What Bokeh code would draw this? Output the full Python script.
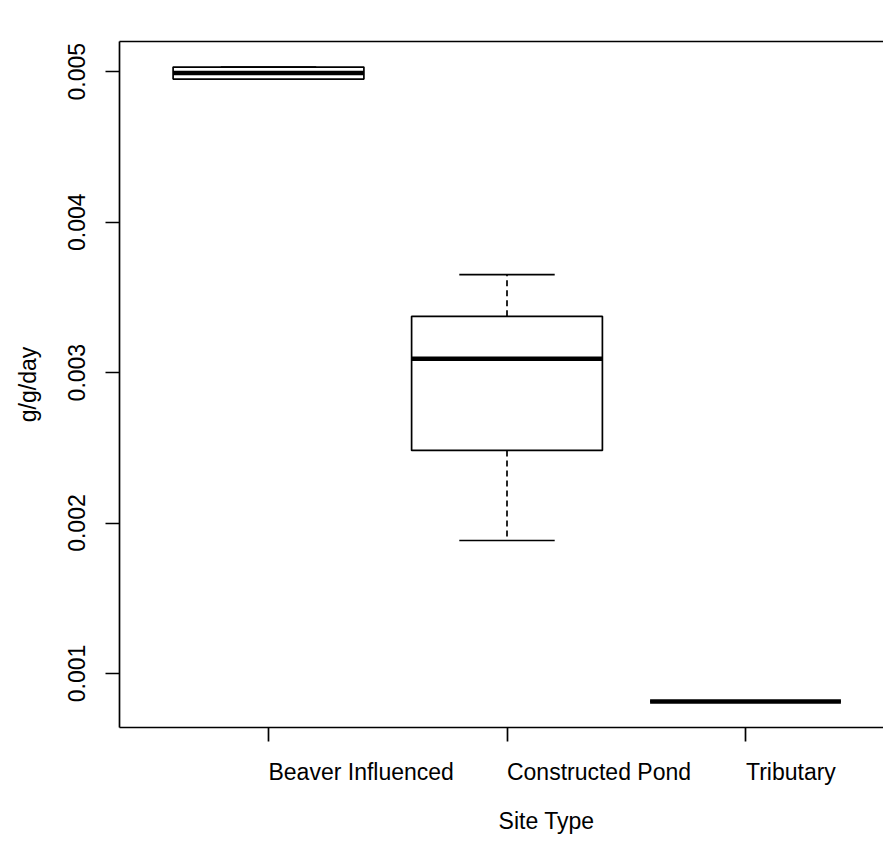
from bokeh.plotting import figure
from bokeh.models import (ColumnDataSource, Range1d, FixedTicker, LinearAxis,
                          CustomJSTickFormatter)
from bokeh.embed import file_html
from bokeh.resources import INLINE

# ---- data ----
categories = ["Beaver Influenced", "Constructed Pond", "Tributary"]
lower_whisker = [0.004951, 0.001884, 0.000814]
q1 = [0.004951, 0.002483, 0.000814]
median = [0.004991, 0.003092, 0.000814]
q3 = [0.005031, 0.003374, 0.000814]
upper_whisker = [0.005031, 0.003651, 0.000814]
y_ticks = [0.001, 0.002, 0.003, 0.004, 0.005]
y_tick_labels = ["0.001", "0.002", "0.003", "0.004", "0.005"]
x_title = "Site Type"
y_title = "g/g/day"

FONT = "Liberation Sans"
FS = "23px"

# ---- layout constants (pixels) ----
W, H = 883, 846
FRAME_L, FRAME_T, FRAME_B = 119, 41, 727
PX_PER_CAT = 238.5
label_half_px = [92.7, 92.0, 45.4]     # half widths of left-aligned tick labels
title_center_px = 546                 # x centre of "Site Type"

pos = [i + 1 for i in range(len(categories))]
x_start = 1 - (268 - FRAME_L) / PX_PER_CAT
x_end = 1 + (W - 268) / PX_PER_CAT
label_centers = [v + h / PX_PER_CAT for v, h in zip(pos, label_half_px)]
title_center = 1 + (title_center_px - 268) / PX_PER_CAT

box_w = 0.8
cap_w = 0.4
src = ColumnDataSource(dict(
    x=pos,
    left=[v - box_w / 2 for v in pos],
    right=[v + box_w / 2 for v in pos],
    cap_l=[v - cap_w / 2 for v in pos],
    cap_r=[v + cap_w / 2 for v in pos],
    lw=lower_whisker, q1=q1, med=median, q3=q3, uw=upper_whisker,
))

p = figure(width=W, height=H, output_backend="svg", toolbar_location=None,
           x_range=Range1d(x_start, x_end), y_range=Range1d(0.000641, 0.005201),
           x_axis_type=None, y_axis_type=None,
           min_border_left=FRAME_L, min_border_top=FRAME_T,
           min_border_bottom=H - FRAME_B, min_border_right=0)
p.outline_line_color = None
p.background_fill_color = "white"
p.border_fill_color = "white"

LW = 1.7

yax = LinearAxis(ticker=FixedTicker(ticks=y_ticks),
                 formatter=CustomJSTickFormatter(args=dict(names=y_tick_labels),
                                                 code="return names[index];"),
                 major_label_orientation="parallel",
                 major_label_text_font=FONT, major_label_text_font_size=FS,
                 major_label_text_color="black", major_label_standoff=20,
                 axis_line_color="black", axis_line_width=LW,
                 major_tick_line_color="black", major_tick_line_width=LW,
                 major_tick_in=0, major_tick_out=14,
                 minor_tick_in=0, minor_tick_out=0,
                 axis_label=y_title, axis_label_text_font=FONT,
                 axis_label_text_font_size=FS, axis_label_text_font_style="normal",
                 axis_label_text_color="black", axis_label_standoff=25)
p.add_layout(yax, "left")

# bottom axis: tick marks at the categories (minor ticks), labels left-aligned
xax = LinearAxis(ticker=FixedTicker(ticks=label_centers, minor_ticks=pos),
                 formatter=CustomJSTickFormatter(args=dict(names=categories),
                                                 code="return names[index];"),
                 major_label_text_font=FONT, major_label_text_font_size=FS,
                 major_label_text_color="black", major_label_standoff=17,
                 axis_line_color="black", axis_line_width=LW,
                 major_tick_in=0, major_tick_out=0,
                 minor_tick_line_color="black", minor_tick_line_width=LW,
                 minor_tick_in=0, minor_tick_out=14)
p.add_layout(xax, "below")

tax = LinearAxis(ticker=FixedTicker(ticks=[title_center]),
                 formatter=CustomJSTickFormatter(args=dict(names=[x_title]),
                                                 code="return names[index];"),
                 major_label_text_font=FONT, major_label_text_font_size=FS,
                 major_label_text_color="black", major_label_standoff=20,
                 axis_line_color=None, major_tick_line_color=None,
                 major_tick_in=0, major_tick_out=0,
                 minor_tick_in=0, minor_tick_out=0)
p.add_layout(tax, "below")

top = LinearAxis(ticker=FixedTicker(ticks=[]),
                 major_label_text_font_size="0px", major_label_text_color=None,
                 axis_line_color="black", axis_line_width=LW,
                 major_tick_out=0, major_tick_in=0, minor_tick_out=0, minor_tick_in=0)
p.add_layout(top, "above")

# whiskers
p.segment(x0="x", y0="q3", x1="x", y1="uw", source=src, line_color="black",
          line_width=LW, line_dash="6 4")
p.segment(x0="x", y0="q1", x1="x", y1="lw", source=src, line_color="black",
          line_width=LW, line_dash="6 4")
# caps
p.segment(x0="cap_l", y0="uw", x1="cap_r", y1="uw", source=src,
          line_color="black", line_width=LW)
p.segment(x0="cap_l", y0="lw", x1="cap_r", y1="lw", source=src,
          line_color="black", line_width=LW)
# boxes
p.quad(left="left", right="right", bottom="q1", top="q3", source=src,
       fill_color="white", line_color="black", line_width=LW)
# medians
p.segment(x0="left", y0="med", x1="right", y1="med", source=src,
          line_color="black", line_width=4.5)

open("out.html", "w").write(file_html(p, INLINE))
